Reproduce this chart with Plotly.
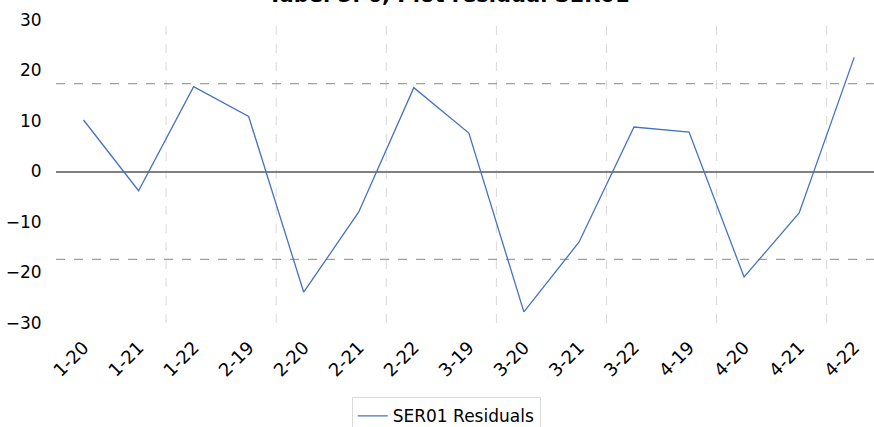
import plotly.graph_objects as go

categories = ["1-20", "1-21", "1-22", "2-19", "2-20", "2-21", "2-22", "3-19",
              "3-20", "3-21", "3-22", "4-19", "4-20", "4-21", "4-22"]
residuals = [10.2, -3.8, 16.8, 10.9, -23.9, -8.0, 16.6, 7.6,
             -27.8, -14.0, 8.8, 7.8, -20.9, -8.2, 22.6]
upper_limit = 17.4
lower_limit = -17.4
series_name = "SER01 Residuals"
title_text = "Tabel 5. 6, Plot residual SER01"
y_ticks = [-30, -20, -10, 0, 10, 20, 30]

FONT = "DejaVu Sans"

fig = go.Figure()
fig.add_trace(go.Scatter(
    x=categories, y=residuals, mode="lines", name=series_name,
    line=dict(color="#4472C4", width=1.3),
))

shapes = []
# vertical dashed gridlines at every second category boundary
for i in range(1, len(categories) - 1, 2):
    shapes.append(dict(type="line", xref="x", yref="paper",
                       x0=i + 0.5, x1=i + 0.5, y0=0, y1=1, layer="below",
                       line=dict(color="#d9d9d9", width=1, dash="dash")))
for lim in (upper_limit, lower_limit):
    shapes.append(dict(type="line", xref="paper", yref="y",
                       x0=0, x1=1, y0=lim, y1=lim, layer="below",
                       line=dict(color="#a0a0a0", width=1.2, dash="dash")))

fig.update_layout(
    width=874, height=427,
    margin=dict(l=56, r=0, t=20, b=104, autoexpand=False),
    paper_bgcolor="white", plot_bgcolor="white",
    shapes=shapes,
    font=dict(family=FONT, color="#000000"),
    showlegend=True,
    legend=dict(orientation="h", x=0.3615, xanchor="left", y=-0.245, yanchor="top",
                bordercolor="#d9d9d9", borderwidth=1, font=dict(size=17, family=FONT)),
    xaxis=dict(type="category", range=[-0.5, 14.36], showgrid=False, zeroline=False,
               showline=False, tickangle=-45, tickfont=dict(size=18, family=FONT),
               ticks="outside", ticklen=6, tickcolor="rgba(0,0,0,0)", automargin=False),
    yaxis=dict(range=[-30, 30], tickvals=y_ticks, showgrid=False,
               zeroline=True, zerolinecolor="#808080", zerolinewidth=1.5,
               showline=False, tickfont=dict(size=17, family=FONT),
               ticks="outside", ticklen=10, tickcolor="rgba(0,0,0,0)", automargin=False),
    annotations=[dict(text="<b>" + title_text + "</b>", xref="paper", yref="paper",
                      x=0.48, y=1.036, xanchor="center", yanchor="bottom",
                      showarrow=False, font=dict(size=21, family=FONT, color="#000"))],
)

fig.write_html("out.html", config={"displayModeBar": False},
               post_script="document.body.style.margin='0px';")
